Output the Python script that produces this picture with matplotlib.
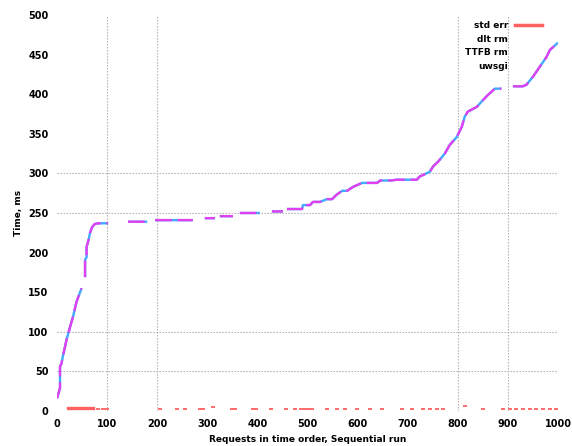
import numpy as np
import matplotlib
matplotlib.use("Agg")
import matplotlib.pyplot as plt
from matplotlib.lines import Line2D

nan = np.nan

# Main latency curve (request index, ms); NaN marks gaps in the trace
curve_x = [0, 6, 6, 9, 12, 16, 19, 26, 32, 39, 49, 52, 56, 56, 59, 59, 63, 66, 70, 75, 82, 102, 120,
           142, 180, 188, 196, 271, 283, 295, 315, 320, 325, 351, 358, 365, 405, 417, 429, 451, 455,
           459, 489, 491, 505, 511, 525, 539, 549, 558, 569, 579, 591, 609, 639, 645, 665, 678,
           718, 724, 744, 751, 761, 774, 784, 798, 808, 814, 820, 838, 848, 860, 874, 887, 898,
           910, 930, 937, 950, 964, 977, 984, 1000]
curve_y = [16, 29, 56, 60, 70, 81, 90, 106, 119, 138, 155, nan, 169, 191, 194, 207, 216, 225, 232, 236, 237, 237, nan,
           239, 239, nan, 241, 241, nan, 243.5, 243.5, nan, 246, 246, nan, 250, 250, nan, 252, 252, nan,
           255, 255, 260, 260, 264, 264, 267.5, 267.5, 273, 278, 278, 283, 288, 288, 291, 291, 292,
           292, 296, 302, 309, 315, 325, 336, 346, 359, 372, 378, 384, 391, 399, 407, 407, nan,
           410, 410, 412, 422, 435, 447, 456, 465]

# Red series: initial continuous run and scattered small values
red_run_x = [22, 35, 50, 60, 72]
red_run_y = [4, 4, 4, 4, 4]
red_dot_x = [82, 92, 99, 206, 239, 255, 285, 292, 311, 349, 355, 391, 398, 428, 458, 475, 488, 495,
             502, 508, 538, 558, 575, 598, 625, 648, 688, 708, 730, 745, 758, 770, 814, 850, 890,
             904, 917, 931, 944, 957, 971, 984, 997]
red_dot_y = [2, 2, 2, 2, 2, 2, 2, 2, 5, 2, 2, 2, 2, 2, 2, 2, 2, 2,
             2, 2, 2, 2, 2, 2, 2, 2, 2, 2, 2, 2, 2, 2, 6, 2, 2,
             2, 2, 2, 2, 2, 2, 2, 2]

legend_labels = ["std err", "dlt rm", "TTFB rm", "uwsgi"]
x_ticks = [0, 100, 200, 300, 400, 500, 600, 700, 800, 900, 1000]
y_ticks = [0, 50, 100, 150, 200, 250, 300, 350, 400, 450, 500]
x_grid = [100, 200, 800, 900]
y_grid = [50, 100, 250, 300]

fig = plt.figure(figsize=(5.72, 4.46), dpi=100)
ax = fig.add_axes([57/572, 1-411/446, (558-57)/572, (411-15)/446])

for s in ax.spines.values():
    s.set_visible(False)

for gx in x_grid:
    ax.axvline(gx, color="#aaaaaa", linestyle=(0, (1.2, 1.5)), linewidth=0.8, zorder=0)
for gy in y_grid:
    ax.axhline(gy, color="#aaaaaa", linestyle=(0, (1.2, 1.5)), linewidth=0.8, zorder=0)

ax.plot(curve_x, curve_y, color="#40a8ff", linewidth=1.7, solid_capstyle="butt", zorder=3)
ax.plot(curve_x, curve_y, color="#e040f0", linewidth=1.7, linestyle=(0, (7, 2.5)), zorder=4)

ax.plot(red_run_x, red_run_y, color="#ff6060", linewidth=2.4, zorder=2)
ax.plot(red_dot_x, red_dot_y, color="#ff6060", linestyle="none", marker="_", markersize=3,
        markeredgewidth=1.3, zorder=2)

ax.set_xlim(0, 1000)
ax.set_ylim(0, 500)
ax.set_xticks(x_ticks)
ax.set_yticks(y_ticks)
ax.set_xticklabels([str(v) for v in x_ticks], fontsize=7, fontweight="bold")
ax.set_yticklabels([str(v) for v in y_ticks], fontsize=7, fontweight="bold")
ax.tick_params(axis="both", which="major", length=0, pad=6)
ax.set_xticks(x_grid, minor=True)
ax.set_yticks(y_grid, minor=True)
ax.tick_params(axis="both", which="minor", length=3, width=1.2, color="black",
               top=True, right=True, bottom=True, left=True)

ax.set_xlabel("Requests in time order, Sequential run", fontsize=6.5, fontweight="bold", labelpad=4)
ax.set_ylabel("Time, ms", fontsize=6.5, fontweight="bold", labelpad=4)

handles = [Line2D([], [], color="#ff6060", linewidth=2.5),
           Line2D([], [], color="none"),
           Line2D([], [], color="none"),
           Line2D([], [], color="none")]
leg = ax.legend(handles, legend_labels, loc="upper right", bbox_to_anchor=(0.985, 1.005),
                frameon=False, markerfirst=False, handlelength=3.0,
                labelspacing=0.5, handletextpad=0.8, prop={"weight": "bold", "size": 6.5})

fig.savefig("out.png", dpi=100)
